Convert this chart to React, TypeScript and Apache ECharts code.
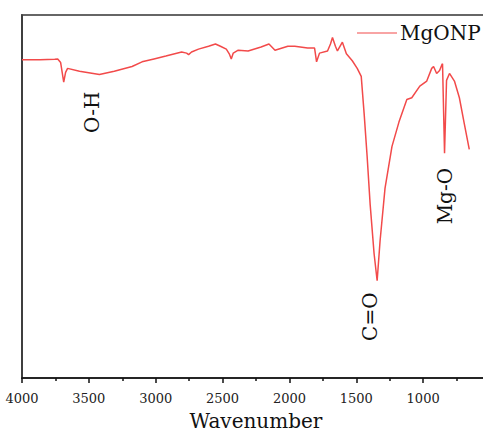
import React, { useEffect, useRef } from "react";
import * as echarts from "echarts";

const wavenumbers = [
  4000, 3866, 3755, 3733, 3711, 3688, 3674, 3659, 3570, 3421, 3310, 3177, 3102, 3013, 2924,
  2806, 2769, 2754, 2732, 2680, 2605, 2553, 2516, 2472, 2450, 2435, 2420, 2383, 2309, 2212,
  2153, 2108, 2012, 1960, 1864, 1812, 1797, 1775, 1715, 1693, 1678, 1656, 1641, 1604, 1574,
  1530, 1493, 1463, 1441, 1419, 1396, 1367, 1344, 1322, 1285, 1233, 1181, 1122, 1085, 1025,
  973, 936, 922, 899, 877, 862, 855, 840, 825, 803, 766, 729, 692, 655,
];
const transmittance = [
  87.7, 87.7, 87.8, 87.9, 86.9, 81.5, 84.2, 85.3, 84.5, 83.6, 84.5, 85.8, 87.1, 87.9, 88.7,
  89.8, 89.5, 89.1, 89.8, 90.6, 91.4, 92.0, 91.4, 90.6, 89.3, 87.9, 89.5, 90.3, 90.1, 91.2,
  92.0, 90.3, 91.4, 91.4, 90.9, 90.9, 87.1, 89.5, 90.1, 92.0, 93.8, 91.4, 90.1, 92.5, 89.3,
  87.4, 85.3, 83.1, 72.7, 61.1, 47.7, 34.3, 26.8, 37.8, 52.3, 63.8, 70.5, 76.7, 77.2, 80.4,
  81.8, 85.3, 85.8, 83.9, 84.7, 86.1, 86.6, 61.9, 82.0, 83.9, 81.8, 77.2, 70.0, 63.0,
];
const seriesName = "MgONP";
const xTicks = [4000, 3500, 3000, 2500, 2000, 1500, 1000];
const annotationTexts = ["O-H", "C=O", "Mg-O"];
const annotationWavenumbers = [3473, 1395, 840];
const annotationLevels = [73.2, 16.9, 50.1];

const FONT = "DejaVu Serif";

export default function App() {
  const ref = useRef<HTMLDivElement>(null);
  useEffect(() => {
    if (!ref.current) return;
    const chart = echarts.init(ref.current, null, { renderer: "svg" });
    const data = wavenumbers.map((w, i) => [w, transmittance[i]]);
    chart.setOption({
      animation: false,
      backgroundColor: "#ffffff",
      grid: {
        left: 22,
        top: 15,
        right: 0,
        bottom: 48,
        show: true,
        borderColor: "#666",
        borderWidth: 2,
      },
      legend: {
        left: 357,
        top: 23,
        padding: 0,
        itemWidth: 40,
        itemHeight: 20,
        itemGap: 0,
        textStyle: { fontFamily: FONT, fontSize: 20, color: "#111", padding: [0, 0, 0, -2] },
        data: [{ name: seriesName, icon: "path://M0,10H40V11H0Z" }],
      },
      xAxis: {
        type: "value",
        inverse: true,
        min: 500,
        max: 4000,
        interval: 500,
        name: "Wavenumber",
        nameLocation: "middle",
        nameGap: 33,
        nameTextStyle: { fontFamily: FONT, fontSize: 20, color: "#111" },
        axisLine: { show: true, lineStyle: { color: "#111", width: 1.5 } },
        axisTick: { show: true, length: 5, lineStyle: { color: "#111", width: 1.5 } },
        minorTick: { show: true, splitNumber: 2, length: 3, lineStyle: { color: "#111", width: 1.5 } },
        splitLine: { show: false },
        axisLabel: {
          margin: 14,
          fontFamily: FONT,
          fontSize: 13,
          color: "#222",
          formatter: (v: number) => (xTicks.includes(v) ? String(v) : ""),
        },
      },
      yAxis: {
        type: "value",
        min: 0,
        max: 100,
        axisLine: { show: true, lineStyle: { color: "#333", width: 1.5 } },
        axisTick: { show: false },
        axisLabel: { show: false },
        splitLine: { show: false },
      },
      series: [
        {
          name: seriesName,
          type: "line",
          data,
          symbol: "none",
          lineStyle: { color: "#f24a4a", width: 1.5 },
          itemStyle: { color: "#f24a4a" },
        },
      ],
    });
    const graphic = annotationTexts.map((t, i) => {
      const p = chart.convertToPixel({ gridIndex: 0 }, [annotationWavenumbers[i], annotationLevels[i]]) as number[];
      return {
        type: "text",
        x: p[0],
        y: p[1],
        rotation: Math.PI / 2,
        style: {
          text: t,
          fontFamily: FONT,
          fontSize: 20,
          fill: "#111",
          align: "center",
          verticalAlign: "middle",
        },
      };
    });
    chart.setOption({ graphic });
    return () => chart.dispose();
  }, []);
  return (
    <div
      style={{ position: "fixed", left: 0, top: 0, width: 483, height: 436, overflow: "hidden", background: "#fff" }}
    >
      <div ref={ref} style={{ width: 493, height: 436 }} />
    </div>
  );
}
